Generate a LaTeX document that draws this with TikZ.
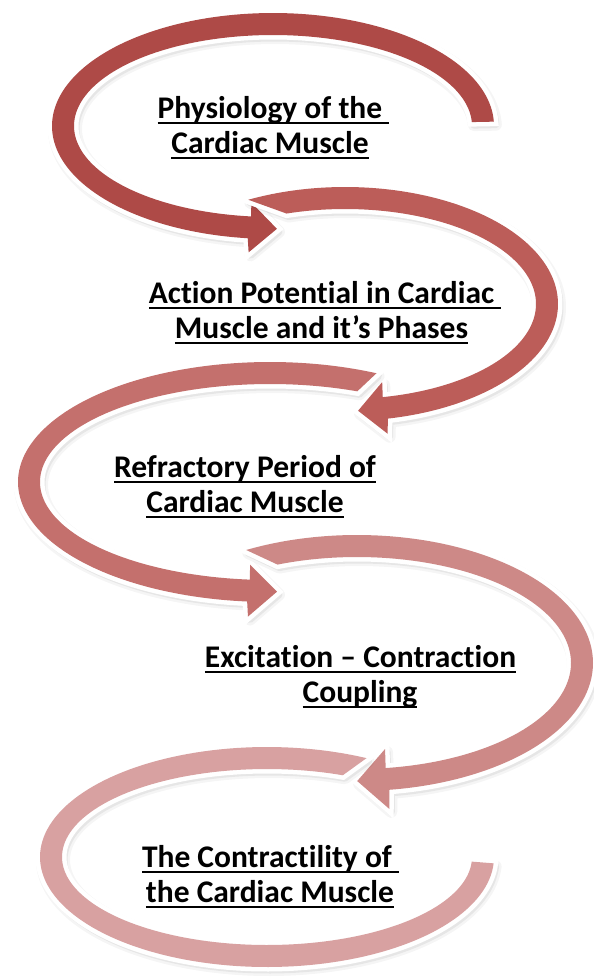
\documentclass[tikz,border=0pt]{standalone}
\usepackage{fontspec}
\setmainfont{Carlito}[Ligatures={NoCommon,NoContextual}]
\definecolor{cA}{RGB}{174,74,71}
\definecolor{cB}{RGB}{188,93,89}
\definecolor{cC}{RGB}{196,112,109}
\definecolor{cD}{RGB}{205,137,135}
\definecolor{cE}{RGB}{216,161,161}
\newcommand\myul[1]{\setbox0=\hbox{#1}\rlap{\rule[-6pt]{\wd0}{2pt}}\box0}
% #1 cx, #2 cy, #3 a, #4 b, #5 t0 outer, #6 t0 inner, #7 t1, #8 colour, #9 head (1/0)
\newcommand\circarr[9]{%
  \pgfmathsetmacro\Px{#1+#3*cos(#7)}%
  \pgfmathsetmacro\Py{#2+#4*sin(#7)}%
  \pgfmathsetmacro\Dr{sign(#7-#5)}%
  \pgfmathsetmacro\Tx{-\Dr*#3/100*sin(#7)}%
  \pgfmathsetmacro\Ty{\Dr*#4/100*cos(#7)}%
  \pgfmathsetmacro\Tn{sqrt(\Tx*\Tx+\Ty*\Ty)}%
  \pgfmathsetmacro\Nx{#4/100*cos(#7)}%
  \pgfmathsetmacro\Ny{#3/100*sin(#7)}%
  \pgfmathsetmacro\Nn{sqrt(\Nx*\Nx+\Ny*\Ny)}%
  \pgfmathsetmacro\Ax{\Px+\HW*\Nx/\Nn}%
  \pgfmathsetmacro\Ay{\Py+\HW*\Ny/\Nn}%
  \pgfmathsetmacro\Bx{\Px-\HW*\Nx/\Nn}%
  \pgfmathsetmacro\By{\Py-\HW*\Ny/\Nn}%
  \pgfmathsetmacro\Cx{\Px+\HL*\Tx/\Tn}%
  \pgfmathsetmacro\Cy{\Py+\HL*\Ty/\Tn}%
  \ifnum#9=1
    \edef\headpart{-- (\Ax,\Ay) -- (\Cx,\Cy) -- (\Bx,\By)}%
  \else
    \def\headpart{}%
  \fi
  \def\arrpath{plot[domain=0:1, samples=140, variable=\qq]
      ({#1+(#3+11)*cos(#5+\qq*(#7-#5))},{#2+(#4+11)*sin(#5+\qq*(#7-#5))})
      \headpart
      -- plot[domain=0:1, samples=140, variable=\qq]
      ({#1+(#3-11)*cos(#7+\qq*(#6-#7))},{#2+(#4-11)*sin(#7+\qq*(#6-#7))}) -- cycle}%
  \path[draw=black, line width=12, line join=round, opacity=0.04, shift={(2,3)}] \arrpath;
  \path[draw=black, line width=7, line join=round, opacity=0.06, shift={(2,3)}] \arrpath;
  \path[fill=#8, preaction={draw=white, line width=9, line join=miter}] \arrpath;
}
\tikzset{lbl/.style={anchor=base, inner sep=0pt, font=\fontsize{31.5}{35}\selectfont\bfseries}}
\begin{document}
\begin{tikzpicture}[x=1pt, y=-1pt]
\useasboundingbox (0,0) rectangle (594,977);
\fill[white] (0,0) rectangle (594,977);
% arrows
\def\HW{25}\def\HL{27}
\circarr{273}{126}{210}{102}{-2.2}{-2.2}{-263.7}{cA}{1}
\def\HW{26}\def\HL{27}
\circarr{345}{304}{202}{106}{-117}{-108}{78.6}{cB}{1}
\def\HW{26}\def\HL{28}
\circarr{270}{482}{241}{109}{-65}{-67.5}{-265}{cC}{1}
\def\HW{30}\def\HL{30}
\circarr{357}{663}{225}{117}{-118}{-112}{82.3}{cD}{1}
\def\HW{25}\def\HL{27}
\circarr{267}{857}{216}{99}{-64}{-68}{-357}{cE}{0}
% labels
\node[lbl] (p1a) at (273.5,118) {\myul{Physiology of the\ }};
\node[lbl] (p1b) at (270,153) {\myul{Cardiac Muscle}};
\node[lbl] (p2a) at (325,303) {\myul{Action Potential in Cardiac\ }};
\node[lbl] (p2b) at (321.5,338) {\myul{Muscle and it’s Phases}};
\node[lbl] (p3a) at (245,477) {\myul{Refractory Period of}};
\node[lbl] (p3b) at (245,512) {\myul{Cardiac Muscle}};
\node[lbl] (p4a) at (360.5,667) {\myul{Excitation – Contraction}};
\node[lbl] (p4b) at (360,702) {\myul{Coupling}};
\node[lbl] (p5a) at (270.5,867) {\myul{The Contractility of\ }};
\node[lbl] (p5b) at (270,902) {\myul{the Cardiac Muscle}};
\end{tikzpicture}
\end{document}
